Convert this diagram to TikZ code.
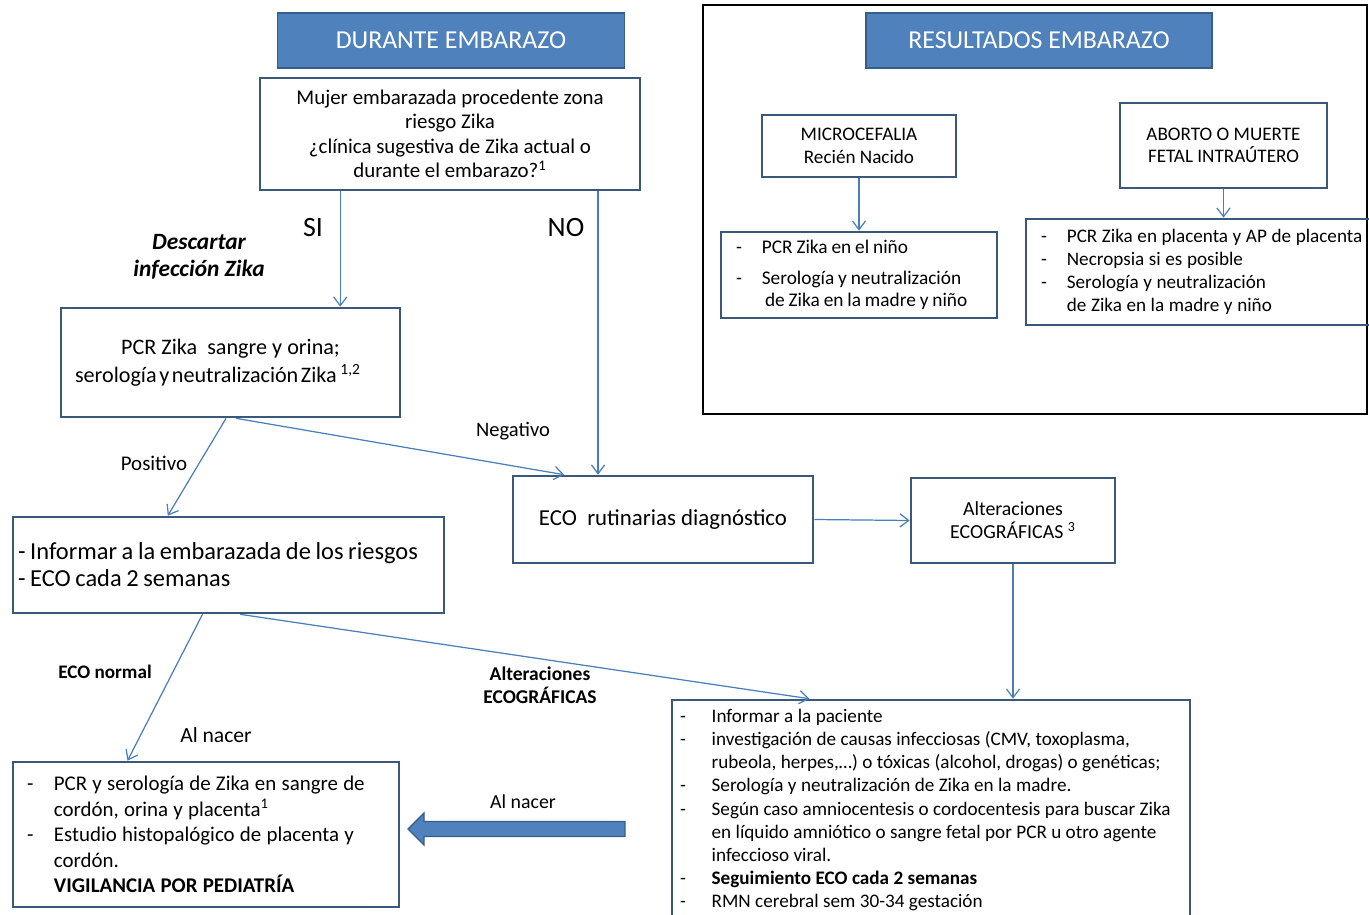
\documentclass[tikz,border=0pt]{standalone}
\usepackage{fontspec}
\setmainfont{Carlito}
\usetikzlibrary{arrows.meta,calc}
\definecolor{hdrfill}{HTML}{4F81BD}
\definecolor{hdrline}{HTML}{385D8A}
\definecolor{boxline}{HTML}{3B5779}
\definecolor{arrline}{HTML}{4A7EBB}
\newlength\lind
\newcommand\fsz[2]{\fontsize{#1}{#2}\selectfont}
\newcommand\tsp[1]{\spaceskip=#1em\relax}
\newcommand\itm[1]{\mbox{\makebox[\lind][l]{-}#1}}
\newcommand\cnt[1]{\mbox{\hspace*{\lind}#1}}

\begin{document}
\begin{tikzpicture}[x=0.02cm,y=-0.02cm,
  hdr/.style={draw=hdrline,fill=hdrfill,line width=1pt,text=white,minimum width=#1,minimum height=1.1cm,inner sep=0pt,font=\fsz{14.7pt}{17pt}},
  box/.style={draw=boxline,line width=1.5pt,align=center,inner sep=0pt},
  listbox/.style={box,align=left,execute at begin node={\setlength\lind{#1}}},
  arr/.style={draw=arrline,line width=0.7pt,-{Straight Barb[length=5pt,width=7.5pt]}},
  fatarr/.style={draw=hdrline,fill=hdrfill,line width=0.8pt},
  lbl/.style={inner sep=0pt,align=center}]
      \useasboundingbox (0,0) rectangle (1369,915);
      % left column
      \node[hdr=6.94cm] (durante) at (451,40.5) {DURANTE EMBARAZO};
      \node[box,minimum width=7.6cm,minimum height=2.24cm,font=\fsz{11.9pt}{13.9pt}] (mujer) at (450,134)
        {Mujer embarazada procedente zona\\riesgo Zika\\¿clínica sugestiva de Zika actual o\\durante el embarazo?\textsuperscript{1}};
      \node[box,minimum width=6.78cm,minimum height=2.18cm,font=\fsz{12.6pt}{15.9pt}] (pcr) at (230.5,362.5)
        {\tsp{0.23}PCR Zika\ \ sangre y orina;\\\tsp{0.12}serología y neutralización Zika\,\textsuperscript{1,2}\hspace*{0.5cm}};
      \node[listbox=0pt,minimum width=8.62cm,minimum height=1.92cm,text width=8.42cm,inner xsep=0.1cm,font=\fsz{13.9pt}{15.3pt}] (informar) at (228.5,565)
        {\tsp{0.19}\mbox{- Informar a la embarazada de los riesgos}\\\mbox{- ECO cada 2 semanas}};
      \node[box,minimum width=6cm,minimum height=1.74cm,font=\fsz{13pt}{15pt}] (ecorut) at (663,519.5) {ECO\ \ rutinarias diagnóstico};
      \node[box,minimum width=4.08cm,minimum height=1.7cm,font=\fsz{11.3pt}{13pt}] (alteco) at (1013,520.5) {Alteraciones\\ECOGRÁFICAS \textsuperscript{3}};
      \node[listbox=18pt,minimum width=10.36cm,minimum height=4.4cm,text width=10.04cm,inner xsep=0.16cm,font=\fsz{10.9pt}{13.15pt}] (big) at (931,810)
        {\tsp{0.23}\itm{Informar a la paciente}\\
         \itm{investigación de causas infecciosas (CMV, toxoplasma,}\\
         \cnt{rubeola, herpes,…) o tóxicas (alcohol, drogas) o genéticas;}\\
         \itm{Serología y neutralización de Zika en la madre.}\\
         \itm{Según caso amniocentesis o cordocentesis para buscar Zika}\\
         \cnt{en líquido amniótico o sangre fetal por PCR u otro agente}\\
         \cnt{infeccioso viral.}\\
         \itm{\textbf{Seguimiento ECO cada 2 semanas}}\\
         \itm{RMN cerebral sem 30-34 gestación}};
      \node[listbox=15.3pt,minimum width=7.72cm,minimum height=2.9cm,text width=7.16cm,inner xsep=0.28cm,font=\fsz{11.9pt}{14.6pt}] (pcrnac) at (206,834.5)
        {\tsp{0.25}\itm{PCR y serología de Zika en sangre de}\\
         \cnt{cordón, orina y placenta\textsuperscript{1}}\\
         \itm{Estudio histopalógico de placenta y}\\
         \cnt{cordón.}\\
         \cnt{\textbf{VIGILANCIA POR PEDIATRÍA}}};
      % right frame
      \node[draw=black,line width=1.5pt,minimum width=13.28cm,minimum height=8.18cm,inner sep=0pt] (marco) at (1035,209.5) {};
      \node[hdr=6.92cm] (resultados) at (1039,40.5) {RESULTADOS EMBARAZO};
      \node[box,minimum width=3.88cm,minimum height=1.24cm,font=\fsz{10.9pt}{12.8pt}] (micro) at (859,146) {MICROCEFALIA\\Recién Nacido};
      \node[listbox=14.7pt,minimum width=5.52cm,minimum height=1.72cm,text width=4.92cm,inner xsep=0.3cm,font=\fsz{11pt}{12.5pt}] (nino) at (859,275)
        {\tsp{0.2}\itm{PCR Zika en el niño}\\[5pt]
         \itm{Serología y neutralización}\\
         \cnt{\,de Zika en la madre y niño}};
      \node[box,minimum width=4.14cm,minimum height=1.7cm,font=\fsz{10.9pt}{12.8pt}] (aborto) at (1223.5,145.5) {ABORTO O MUERTE\\FETAL INTRAÚTERO};
      \node[listbox=14.7pt,minimum width=6.92cm,minimum height=2.12cm,text width=6.32cm,inner xsep=0.3cm,font=\fsz{10.9pt}{13pt}] (abortolist) at (1199,272)
        {\tsp{0.24}\itm{PCR Zika en placenta y AP de placenta}\\
         \itm{Necropsia si es posible}\\
         \itm{Serología y neutralización}\\
         \cnt{de Zika en la madre y niño}};
      % labels
      \node[lbl,font=\fsz{15.9pt}{18pt}] (si) at (313,228) {SI};
      \node[lbl,font=\fsz{15.9pt}{18pt}] (no) at (566,228) {NO};
      \node[lbl,font=\bfseries\itshape\fsz{13.3pt}{15.3pt}] (descartar) at (199,256.5) {Descartar\\infección Zika};
      \node[lbl,font=\fsz{11.9pt}{14pt}] (positivo) at (154,463) {Positivo};
      \node[lbl,font=\fsz{11.7pt}{14pt}] (negativo) at (513,431) {Negativo};
      \node[lbl,font=\bfseries\fsz{10.9pt}{13pt}] (econormal) at (105,672) {ECO normal};
      \node[lbl,font=\fsz{12.3pt}{14pt}] (alnacerA) at (216,735) {Al nacer};
      \node[lbl,font=\bfseries\fsz{11.1pt}{13pt}] (altlbl) at (540,685.5) {Alteraciones\\ECOGRÁFICAS};
      \node[lbl,font=\fsz{11.3pt}{14pt}] (alnacerB) at (523,802) {Al nacer};
      % connectors
      \draw[arr] ($(mujer.south west)!0.213!(mujer.south east)$) coordinate (m1) -- (m1 |- pcr.north);
      \draw[arr] ($(mujer.south west)!0.887!(mujer.south east)$) coordinate (m2) -- (m2 |- ecorut.north);
      \foreach \a/\fa/\b/\fb in {pcr/0.487/informar/0.36,pcr/0.516/ecorut/0.173,informar/0.44/pcrnac/0.298,informar/0.527/big/0.266}
        \draw[arr] ($(\a.south west)!\fa!(\a.south east)$) -- ($(\b.north west)!\fb!(\b.north east)$);
      \draw[arr] (ecorut.east) -- (alteco.west);
      \draw[arr] (alteco.south) -- (alteco.south |- big.north);
      \draw[arr] (micro.south) -- (micro.south |- nino.north);
      \draw[arr] (aborto.south) -- (aborto.south |- abortolist.north);
      \coordinate (fattail) at (625,829);
      \coordinate (fattip) at (408,829);
      \draw[fatarr] ($(fattail)+(0,-7.5)$) -- ($(fattip)+(16,-7.5)$) -- ++(0,-8.5) -- (fattip) -- ++(16,16) -- ++(0,-8.5) -- ($(fattail)+(0,7.5)$) -- cycle;
    \end{tikzpicture}
\end{document}
